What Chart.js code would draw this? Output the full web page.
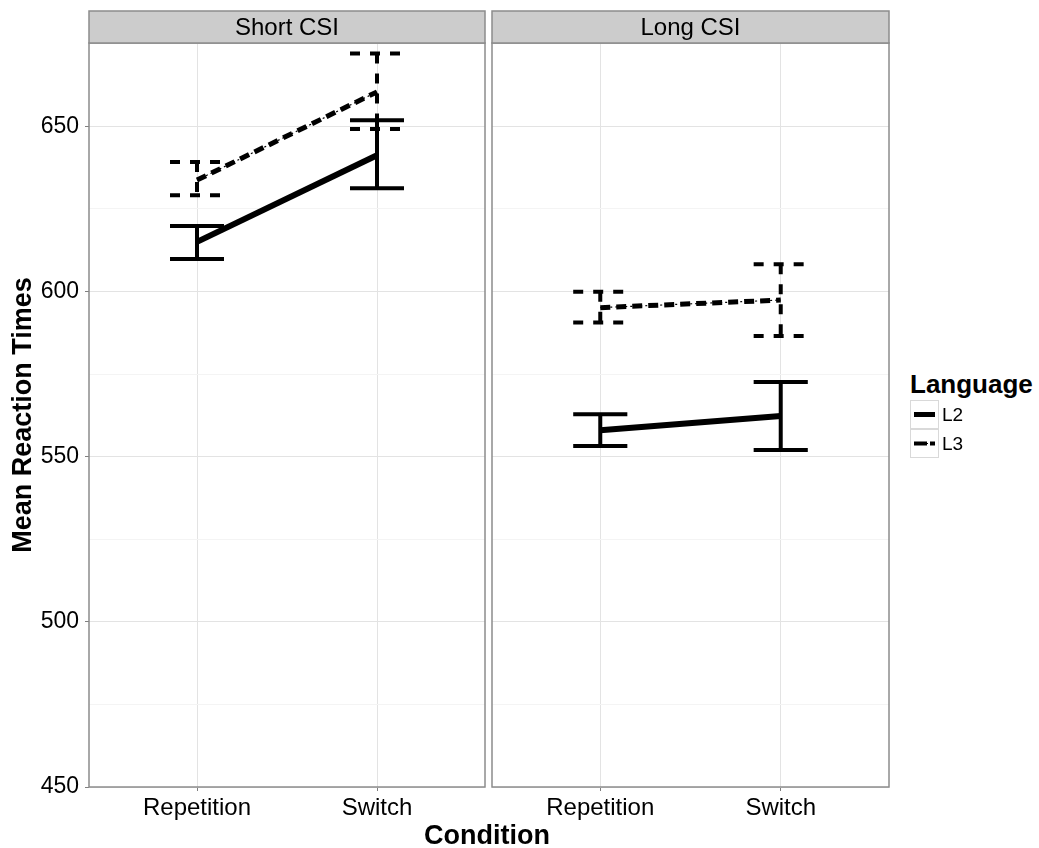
<!DOCTYPE html>
<html>
<head>
<meta charset="utf-8">
<script src="https://cdn.jsdelivr.net/npm/chart.js@4.4.0/dist/chart.umd.min.js"></script>
<style>
  body { margin: 0; background: #fff; font-family: "Liberation Sans", Arial, sans-serif; }
  #wrap { position: relative; width: 1039px; height: 848px; }
  #left { position: absolute; left: 0; top: 0; }
  #right { position: absolute; left: 488px; top: 0; }
  #xtitle { position: absolute; left: 387px; width: 200px; top: 818px; line-height: 34px; text-align: center;
            font-weight: bold; font-size: 27px; }
  #legend { position: absolute; left: 910px; top: 369px; font-size: 19px; }
  #legend .ttl { font-weight: bold; font-size: 26px; line-height: 31px; margin-bottom: 0; }
  #legend .row { display: flex; align-items: center; height: 29px; }
  #legend canvas { border: 1px solid #d9d9d9; margin-right: 3px; }
</style>
</head>
<body>
<div id="wrap">
  <canvas id="left" width="487" height="848"></canvas>
  <canvas id="right" width="403" height="848"></canvas>
  <div id="xtitle">Condition</div>
  <div id="legend">
    <div class="ttl">Language</div>
    <div class="row"><canvas id="keyL2" width="27" height="27"></canvas>L2</div>
    <div class="row"><canvas id="keyL3" width="27" height="27"></canvas>L3</div>
  </div>
</div>
<script>
/* global Chart */

// data
var conditions = ['Repetition', 'Switch'];
var panels = ['Short CSI', 'Long CSI'];
var languages = ['L2', 'L3'];

var shortL2 = [615.0, 641.2];
var shortL2Lo = [609.8, 631.2];
var shortL2Hi = [619.8, 651.8];
var shortL3 = [633.7, 660.4];
var shortL3Lo = [629.1, 649.2];
var shortL3Hi = [639.2, 672.0];

var longL2 = [558.0, 562.3];
var longL2Lo = [553.2, 552.0];
var longL2Hi = [562.8, 572.6];
var longL3 = [595.1, 597.4];
var longL3Lo = [590.6, 586.5];
var longL3Hi = [599.9, 608.2];

var yTicks = [450, 500, 550, 600, 650];

(function () {

    var FONT = '"Liberation Sans", Arial, sans-serif';

    var toPoints = function (vals) {
        return vals.map(function (v, i) { return { x: i + 1, y: v }; });
    };

    var makeDatasets = function (l2, l2Lo, l2Hi, l3, l3Lo, l3Hi) {
        return [
            { label: languages[0], data: toPoints(l2), borderColor: '#000', borderWidth: 6,
              pointRadius: 0, errLo: l2Lo, errHi: l2Hi, errDash: [] },
            { label: languages[1], data: toPoints(l3), borderColor: '#000', borderWidth: 5,
              borderDash: [10, 6], pointRadius: 0, errLo: l3Lo, errHi: l3Hi, errDash: [10, 10] },
            { label: languages[1] + ' dots', data: toPoints(l3), borderColor: '#000', borderWidth: 1.2,
              borderDash: [2, 3], pointRadius: 0 }
        ];
    };

    // error bars + strip + panel border
    var facetPlugin = {
        id: 'facet',
        afterDatasetsDraw: function (chart) {
            var ctx = chart.ctx;
            var xs = chart.scales.x, ys = chart.scales.y;
            ctx.save();
            chart.data.datasets.forEach(function (ds) {
                if (!ds.errLo) return;
                ctx.strokeStyle = '#000';
                ctx.lineWidth = 4;
                ctx.setLineDash(ds.errDash);
                ctx.lineCap = 'butt';
                ds.errLo.forEach(function (lo, i) {
                    var hi = ds.errHi[i];
                    var xc = xs.getPixelForValue(i + 1);
                    var xl = xs.getPixelForValue(i + 1 - 0.15);
                    var xr = xs.getPixelForValue(i + 1 + 0.15);
                    var yl = ys.getPixelForValue(lo), yh = ys.getPixelForValue(hi);
                    ctx.beginPath();
                    ctx.moveTo(xl, yh); ctx.lineTo(xr, yh);
                    ctx.moveTo(xc, yh); ctx.lineTo(xc, yl);
                    ctx.moveTo(xl, yl); ctx.lineTo(xr, yl);
                    ctx.stroke();
                });
            });
            ctx.restore();
        },
        afterDraw: function (chart) {
            var ctx = chart.ctx, a = chart.chartArea;
            ctx.save();
            ctx.strokeStyle = '#8c8c8c';
            ctx.lineWidth = 1.5;
            ctx.strokeRect(a.left, a.top, a.right - a.left, a.bottom - a.top);
            ctx.fillStyle = '#cccccc';
            ctx.fillRect(a.left, a.top - 32, a.right - a.left, 32);
            ctx.strokeRect(a.left, a.top - 32, a.right - a.left, 32);
            ctx.fillStyle = '#000';
            ctx.font = '24px ' + FONT;
            ctx.textAlign = 'center';
            ctx.textBaseline = 'middle';
            ctx.fillText(chart.options.plugins.facet.label, (a.left + a.right) / 2, a.top - 15);
            ctx.restore();
        }
    };

    var makeChart = function (id, label, datasets, showY, yWidth) {
        var ctx = document.getElementById(id).getContext('2d');
        return new Chart(ctx, {
            type: 'line',
            data: { datasets: datasets },
            options: {
                responsive: false,
                animation: false,
                layout: { padding: { top: 43, right: 2, left: 0, bottom: 0 } },
                plugins: {
                    legend: { display: false },
                    tooltip: { enabled: false },
                    facet: { label: label }
                },
                scales: {
                    x: {
                        type: 'linear', min: 0.4, max: 2.6,
                        afterBuildTicks: function (s) { s.ticks = [{ value: 1 }, { value: 2 }]; },
                        afterFit: function (s) { s.height = 61; },
                        border: { display: false },
                        grid: { color: '#e3e3e3', lineWidth: 1, tickLength: 4, tickColor: '#7f7f7f' },
                        ticks: {
                            color: '#000', padding: 3, maxRotation: 0,
                            font: { size: 24, family: FONT },
                            callback: function (v) { return conditions[v - 1]; }
                        }
                    },
                    y: {
                        min: 450, max: 675.2,
                        afterBuildTicks: function (s) {
                            var t = [];
                            for (var v = 450; v <= 675; v += 25) t.push({ value: v });
                            s.ticks = t;
                        },
                        afterFit: function (s) { s.width = yWidth; },
                        border: { display: false },
                        grid: {
                            color: function (c) { return c.tick && yTicks.indexOf(c.tick.value) >= 0 ? '#e3e3e3' : '#f4f4f4'; },
                            tickColor: function (c) { return showY && c.tick && yTicks.indexOf(c.tick.value) >= 0 ? '#7f7f7f' : 'rgba(0,0,0,0)'; },
                            tickLength: 4
                        },
                        ticks: {
                            display: showY, color: '#000', padding: 6,
                            font: { size: 23, family: FONT },
                            callback: function (v) { return yTicks.indexOf(v) >= 0 ? String(v) : ''; }
                        },
                        title: {
                            display: showY, text: 'Mean Reaction Times', color: '#000',
                            font: { size: 27, weight: 'bold', family: FONT },
                            padding: { top: 7, bottom: 0 }
                        }
                    }
                }
            },
            plugins: [facetPlugin]
        });
    };

    makeChart('left', panels[0], makeDatasets(shortL2, shortL2Lo, shortL2Hi, shortL3, shortL3Lo, shortL3Hi), true, 89);
    makeChart('right', panels[1], makeDatasets(longL2, longL2Lo, longL2Hi, longL3, longL3Lo, longL3Hi), false, 4);

    // legend keys
    var k2 = document.getElementById('keyL2').getContext('2d');
    k2.lineWidth = 5; k2.beginPath(); k2.moveTo(3, 13.5); k2.lineTo(24, 13.5); k2.stroke();
    var k3 = document.getElementById('keyL3').getContext('2d');
    k3.lineWidth = 4; k3.setLineDash([13, 3]); k3.beginPath(); k3.moveTo(3, 13.5); k3.lineTo(24, 13.5); k3.stroke();
    k3.lineWidth = 1; k3.setLineDash([2, 2]); k3.beginPath(); k3.moveTo(3, 13.5); k3.lineTo(24, 13.5); k3.stroke();

})();
</script>
</body>
</html>
